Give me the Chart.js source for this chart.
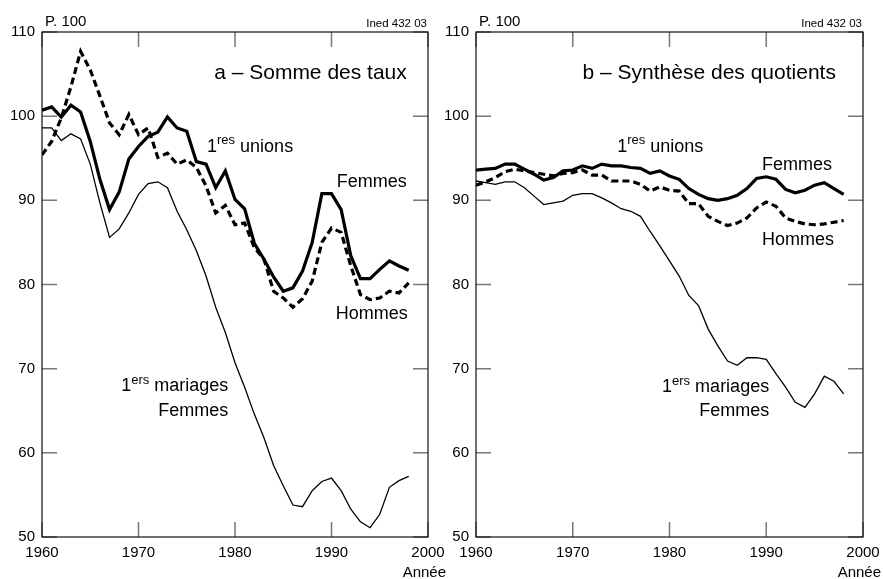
<!DOCTYPE html>
<html>
<head>
<meta charset="utf-8">
<script src="https://cdn.jsdelivr.net/npm/chart.js@4.4.1/dist/chart.umd.min.js"></script>
<style>
  body { margin: 0; background: #fff; overflow: hidden; }
  .panel { position: absolute; top: 0; height: 579px; }
  #wrapA { left: 0; width: 452px; }
  #wrapB { left: 436px; width: 447px; }
</style>
</head>
<body>
<div class="panel" id="wrapA"><canvas id="chartA"></canvas></div>
<div class="panel" id="wrapB"><canvas id="chartB"></canvas></div>
<script>
// years of observation
const years = [
  1960, 1961, 1962, 1963, 1964, 1965, 1966, 1967, 1968, 1969,
  1970, 1971, 1972, 1973, 1974, 1975, 1976, 1977, 1978, 1979,
  1980, 1981, 1982, 1983, 1984, 1985, 1986, 1987, 1988, 1989,
  1990, 1991, 1992, 1993, 1994, 1995, 1996, 1997, 1998,
];
const xTicks = [1960, 1970, 1980, 1990, 2000];
const yTicks = [50, 60, 70, 80, 90, 100, 110];

// a - Somme des taux
const tauxUnionsFemmes = [
  100.7, 101.1, 99.9, 101.3, 100.5, 97.0, 92.5, 88.9, 91.0, 94.9,
  96.4, 97.6, 98.1, 99.9, 98.6, 98.2, 94.6, 94.3, 91.5, 93.5,
  90.1, 89.0, 84.9, 83.0, 80.9, 79.2, 79.6, 81.6, 85.0, 90.8,
  90.8, 88.9, 83.4, 80.7, 80.7, 81.8, 82.8, 82.2, 81.7,
];
const tauxUnionsHommes = [
  95.4, 97.0, 99.8, 103.5, 107.7, 105.5, 102.4, 99.2, 97.8, 100.2,
  97.8, 98.6, 95.1, 95.6, 94.3, 94.8, 93.9, 91.7, 88.5, 89.4,
  87.1, 87.3, 84.4, 83.0, 79.2, 78.4, 77.3, 78.3, 80.4, 85.0,
  86.7, 86.2, 82.2, 78.8, 78.2, 78.4, 79.2, 79.0, 80.2,
];
const tauxMariagesFemmes = [
  98.6, 98.6, 97.1, 97.9, 97.3, 94.3, 89.7, 85.6, 86.6, 88.5,
  90.7, 92.0, 92.2, 91.5, 88.7, 86.5, 84.0, 81.0, 77.3, 74.3,
  70.7, 67.8, 64.6, 61.8, 58.5, 56.1, 53.8, 53.6, 55.5, 56.6,
  57.0, 55.5, 53.3, 51.8, 51.1, 52.7, 55.9, 56.7, 57.2,
];

// b - Synthese des quotients
const quotUnionsFemmes = [
  93.6, 93.7, 93.8, 94.3, 94.3, 93.7, 93.1, 92.4, 92.7, 93.5,
  93.6, 94.1, 93.8, 94.3, 94.1, 94.1, 93.9, 93.8, 93.2, 93.5,
  92.9, 92.5, 91.4, 90.7, 90.2, 90.0, 90.2, 90.6, 91.4, 92.6,
  92.8, 92.5, 91.3, 90.9, 91.2, 91.8, 92.1, 91.4, 90.7,
];
const quotUnionsHommes = [
  91.8, 92.2, 92.7, 93.4, 93.7, 93.5, 93.3, 93.1, 92.9, 93.2,
  93.3, 93.6, 93.0, 93.0, 92.3, 92.3, 92.3, 91.9, 91.1, 91.6,
  91.2, 91.1, 89.6, 89.6, 88.1, 87.5, 87.0, 87.3, 87.9, 89.1,
  89.8, 89.3, 87.9, 87.5, 87.2, 87.1, 87.2, 87.4, 87.6,
];
const quotMariagesFemmes = [
  92.3, 92.1, 91.9, 92.2, 92.2, 91.5, 90.5, 89.5, 89.7, 89.9,
  90.6, 90.8, 90.8, 90.3, 89.7, 89.0, 88.7, 88.1, 86.3, 84.6,
  82.8, 81.0, 78.7, 77.5, 74.7, 72.7, 70.9, 70.4, 71.3, 71.3,
  71.1, 69.4, 67.8, 66.0, 65.4, 67.0, 69.1, 68.5, 67.0,
];

const FONT = "'Liberation Sans', Arial, Helvetica, sans-serif";

function toPoints(values) {
  return years.map((yr, i) => ({ x: yr, y: values[i] }));
}

//frame + inward tick marks on the four sides
const frameTicks = {
  id: "frameTicks",
  beforeDatasetsDraw(chart) {
    const { ctx, chartArea: a } = chart;
    const sx = chart.scales.x;
    const sy = chart.scales.y;
    ctx.save();
    ctx.strokeStyle = "#777";
    ctx.lineWidth = 1.5;
    ctx.beginPath();
    yTicks.forEach((v) => {
      const py = sy.getPixelForValue(v);
      ctx.moveTo(a.left, py);
      ctx.lineTo(a.left + 15, py);
      ctx.moveTo(a.right, py);
      ctx.lineTo(a.right - 15, py);
    });
    xTicks.forEach((v) => {
      const px = sx.getPixelForValue(v);
      ctx.moveTo(px, a.bottom);
      ctx.lineTo(px, a.bottom - 15);
      ctx.moveTo(px, a.top);
      ctx.lineTo(px, a.top + 15);
    });
    ctx.stroke();
    ctx.strokeStyle = "#111";
    ctx.lineWidth = 1.2;
    ctx.strokeRect(a.left, a.top, a.right - a.left, a.bottom - a.top);
    ctx.restore();
  },
};

//text with a superscript part: pre + sup + post
function drawSup(ctx, px, py, align, pre, sup, post, size) {
  ctx.font = size + "px " + FONT;
  const w1 = ctx.measureText(pre).width;
  const w3 = ctx.measureText(post).width;
  ctx.font = Math.round(size * 0.72) + "px " + FONT;
  const w2 = ctx.measureText(sup).width;
  let x0 = align === "right" ? px - (w1 + w2 + w3) : px;
  ctx.textAlign = "left";
  ctx.font = size + "px " + FONT;
  ctx.fillText(pre, x0, py);
  ctx.font = Math.round(size * 0.72) + "px " + FONT;
  ctx.fillText(sup, x0 + w1, py - size * 0.4);
  ctx.font = size + "px " + FONT;
  ctx.fillText(post, x0 + w1 + w2, py);
}

//panel texts (title, series names, headers)
const panelTexts = {
  id: "panelTexts",
  afterDatasetsDraw(chart, args, options) {
    const { ctx, chartArea: a } = chart;
    const sx = chart.scales.x;
    const sy = chart.scales.y;
    ctx.save();
    ctx.fillStyle = "#000";
    ctx.textBaseline = "alphabetic";

    ctx.font = "15px " + FONT;
    ctx.textAlign = "left";
    ctx.fillText("P. 100", a.left + 3, a.top - 6);

    ctx.font = "11.5px " + FONT;
    ctx.textAlign = "right";
    ctx.fillText("Ined 432 03", a.right - 1, a.top - 5);

    ctx.font = "15px " + FONT;
    ctx.textAlign = "right";
    ctx.fillText("Année", a.right + 18, a.bottom + 40);

    for (let i = 0; i < options.labels.length; i++) {
      const l = options.labels[i];
      const px = sx.getPixelForValue(l.x);
      const py = sy.getPixelForValue(l.y);
      if (l.sup) {
        drawSup(ctx, px, py, l.align, l.text, l.sup, l.post, l.size);
      } else {
        ctx.font = l.size + "px " + FONT;
        ctx.textAlign = l.align;
        ctx.fillText(l.text, px, py);
      }
    }
    ctx.restore();
  },
};

function makeChart(id, femmes, hommes, mariages, yWidth, padRight, labels) {
  return new Chart(document.getElementById(id).getContext("2d"), {
    type: "line",
    data: {
      datasets: [
        {
          label: "1res unions Femmes",
          data: toPoints(femmes),
          borderColor: "#000",
          borderWidth: 3.2,
          pointRadius: 0,
          tension: 0,
        },
        {
          label: "1res unions Hommes",
          data: toPoints(hommes),
          borderColor: "#000",
          borderWidth: 3.2,
          borderDash: [7, 4],
          pointRadius: 0,
          tension: 0,
        },
        {
          label: "1ers mariages Femmes",
          data: toPoints(mariages),
          borderColor: "#000",
          borderWidth: 1.3,
          pointRadius: 0,
          tension: 0,
        },
      ],
    },
    options: {
      responsive: true,
      maintainAspectRatio: false,
      animation: false,
      layout: {
        padding: { top: 32, right: padRight, bottom: 0, left: 0 },
      },
      plugins: {
        legend: { display: false },
        tooltip: { enabled: false },
        panelTexts: { labels: labels },
      },
      scales: {
        x: {
          type: "linear",
          min: 1960,
          max: 2000,
          afterBuildTicks: (scale) => {
            scale.ticks = xTicks.map((v) => ({ value: v }));
          },
          afterFit: (scale) => {
            scale.height = 42;
            scale.paddingLeft = 0;
            scale.paddingRight = 0;
          },
          grid: { display: false, drawTicks: false },
          border: { display: false },
          ticks: {
            color: "#000",
            padding: 7,
            maxRotation: 0,
            font: { family: FONT, size: 15 },
            callback: (v) => String(v),
          },
        },
        y: {
          min: 50,
          max: 110,
          afterBuildTicks: (scale) => {
            scale.ticks = yTicks.map((v) => ({ value: v }));
          },
          afterFit: (scale) => {
            scale.width = yWidth;
            scale.paddingTop = 0;
            scale.paddingBottom = 0;
          },
          grid: { display: false, drawTicks: false },
          border: { display: false },
          ticks: {
            color: "#000",
            padding: 7,
            font: { family: FONT, size: 15 },
            callback: (v) => String(v),
          },
        },
      },
    },
    plugins: [frameTicks, panelTexts],
  });
}

var chartA = makeChart("chartA", tauxUnionsFemmes, tauxUnionsHommes, tauxMariagesFemmes, 42, 24, [
  { text: "a – Somme des taux", x: 1997.8, y: 104.45, align: "right", size: 21 },
  { text: "1", sup: "res", post: " unions", x: 1977.1, y: 95.8, align: "left", size: 18 },
  { text: "Femmes", x: 1997.8, y: 91.6, align: "right", size: 18 },
  { text: "Hommes", x: 1997.9, y: 75.9, align: "right", size: 18 },
  { text: "1", sup: "ers", post: " mariages", x: 1979.3, y: 67.3, align: "right", size: 18 },
  { text: "Femmes", x: 1979.3, y: 64.4, align: "right", size: 18 },
]);

var chartB = makeChart("chartB", quotUnionsFemmes, quotUnionsHommes, quotMariagesFemmes, 40, 20, [
  { text: "b – Synthèse des quotients", x: 1997.2, y: 104.45, align: "right", size: 21 },
  { text: "1", sup: "res", post: " unions", x: 1974.6, y: 95.8, align: "left", size: 18 },
  { text: "Femmes", x: 1996.8, y: 93.55, align: "right", size: 18 },
  { text: "Hommes", x: 1997.0, y: 84.7, align: "right", size: 18 },
  { text: "1", sup: "ers", post: " mariages", x: 1990.3, y: 67.2, align: "right", size: 18 },
  { text: "Femmes", x: 1990.3, y: 64.4, align: "right", size: 18 },
]);
</script>
</body>
</html>
